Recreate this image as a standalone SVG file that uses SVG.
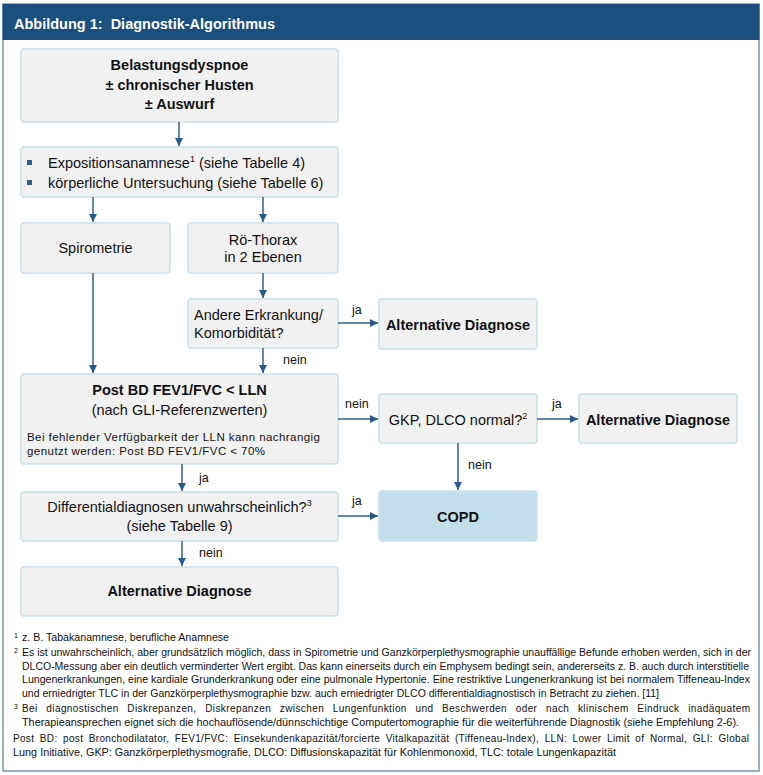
<svg xmlns="http://www.w3.org/2000/svg" width="763" height="775" viewBox="0 0 763 775">
<defs>
<style>
.box{fill:#f1f1f1;stroke:#c9e0ec;stroke-width:1.5}
.copd{fill:#c3deeb;stroke:#c9e0ec;stroke-width:1.5}
.t{font-family:"Liberation Sans",Arial,sans-serif;font-size:14.5px;fill:#111}
.b{font-weight:bold}
.c{text-anchor:middle}
.lbl{font-family:"Liberation Sans",Arial,sans-serif;font-size:12.5px;fill:#111}
.sm{font-family:"Liberation Sans",Arial,sans-serif;font-size:11.5px;fill:#111}
.fn{font-family:"Liberation Sans",Arial,sans-serif;font-size:10px;fill:#111}
.sup{font-family:"Liberation Sans",Arial,sans-serif;font-size:7px;fill:#111}
.conn line{stroke:#2f5f8a;stroke-width:1.5;marker-end:url(#ah)}
</style>
<marker id="ah" viewBox="0 0 10 10" refX="10" refY="5" markerWidth="8" markerHeight="8" markerUnits="userSpaceOnUse" orient="auto">
<path d="M0,0 L10,5 L0,10 Z" fill="#2a5a85"/>
</marker>
</defs>
<rect x="0" y="0" width="763" height="775" fill="#ffffff"/>
<rect id="frame" x="3" y="4" width="756" height="767" fill="#ffffff" stroke="#7594b3" stroke-width="1.5"/>
<g id="header">
<rect x="2.5" y="4" width="757" height="36" fill="#1b4f7e"/>
<text x="14" y="29" class="t b" xml:space="preserve" style="fill:#ffffff;font-size:14.5px">Abbildung 1:  Diagnostik-Algorithmus</text>
</g>

<g id="n1">
<rect class="box" x="21" y="49" width="317" height="73" rx="3"/>
<text class="t b c" x="179.5" y="70">Belastungsdyspnoe</text>
<text class="t b c" x="179.5" y="90">± chronischer Husten</text>
<text class="t b c" x="179.5" y="109">± Auswurf</text>
</g>
<g id="n2">
<rect class="box" x="21" y="147" width="317" height="50" rx="3"/>
<rect x="27" y="160" width="5" height="5" fill="#2f5f8a"/>
<rect x="27" y="180" width="5" height="5" fill="#2f5f8a"/>
<text class="t" x="48" y="168">Expositionsanamnese<tspan font-size="9" dy="-6">1</tspan><tspan dy="6"> (siehe Tabelle 4)</tspan></text>
<text class="t" x="48" y="188">körperliche Untersuchung (siehe Tabelle 6)</text>
</g>
<g id="n3">
<rect class="box" x="21" y="223" width="149" height="50" rx="3"/>
<text class="t c" x="95.5" y="253">Spirometrie</text>
</g>
<g id="n4">
<rect class="box" x="188" y="223" width="150" height="50" rx="3"/>
<text class="t c" x="263" y="245">Rö-Thorax</text>
<text class="t c" x="263" y="262">in 2 Ebenen</text>
</g>
<g id="n5">
<rect class="box" x="188" y="299" width="150" height="49" rx="3"/>
<text class="t" x="194" y="320">Andere Erkrankung/</text>
<text class="t" x="194" y="338">Komorbidität?</text>
</g>
<g id="n6">
<rect class="box" x="379" y="299" width="158" height="50" rx="3"/>
<text class="t b c" x="458" y="330">Alternative Diagnose</text>
</g>
<g id="n7">
<rect class="box" x="21" y="374" width="317" height="90" rx="3"/>
<text class="t b c" x="179.5" y="395">Post BD FEV1/FVC &lt; LLN</text>
<text class="t c" x="179.5" y="415">(nach GLI-Referenzwerten)</text>
<text class="sm" x="27" y="441" textLength="293" lengthAdjust="spacing">Bei fehlender Verfügbarkeit der LLN kann nachrangig</text>
<text class="sm" x="27" y="455" textLength="238" lengthAdjust="spacing">genutzt werden: Post BD FEV1/FVC &lt; 70%</text>
</g>
<g id="n8">
<rect class="box" x="379" y="394" width="158" height="49" rx="3"/>
<text class="t c" x="458" y="425">GKP, DLCO normal?<tspan font-size="9" dy="-6">2</tspan></text>
</g>
<g id="n9">
<rect class="box" x="579" y="394" width="158" height="49" rx="3"/>
<text class="t b c" x="658" y="425">Alternative Diagnose</text>
</g>
<g id="n10">
<rect class="box" x="21" y="492" width="317" height="49" rx="3"/>
<text class="t c" x="179.5" y="512">Differentialdiagnosen unwahrscheinlich?<tspan font-size="9" dy="-6">3</tspan></text>
<text class="t c" x="179.5" y="531">(siehe Tabelle 9)</text>
</g>
<g id="n11">
<rect class="copd" x="379" y="491" width="158" height="50" rx="3"/>
<text class="t b c" x="458" y="522">COPD</text>
</g>
<g id="n12">
<rect class="box" x="21" y="567" width="317" height="49" rx="3"/>
<text class="t b c" x="179.5" y="596">Alternative Diagnose</text>
</g>

<g id="connectors" class="conn">
<line x1="179" y1="122" x2="179" y2="146"/>
<line x1="93" y1="197" x2="93" y2="222"/>
<line x1="263" y1="197" x2="263" y2="222"/>
<line x1="263" y1="273" x2="263" y2="298"/>
<line x1="338" y1="323" x2="378" y2="323"/>
<line x1="263" y1="348" x2="263" y2="373"/>
<line x1="93" y1="273" x2="93" y2="373"/>
<line x1="338" y1="419" x2="378" y2="419"/>
<line x1="537" y1="419" x2="578" y2="419"/>
<line x1="458" y1="443" x2="458" y2="490"/>
<line x1="182" y1="464" x2="182" y2="491"/>
<line x1="338" y1="516" x2="378" y2="516"/>
<line x1="182" y1="541" x2="182" y2="566"/>
</g>
<g id="labels">
<text class="lbl" x="352" y="314">ja</text>
<text class="lbl" x="283" y="364">nein</text>
<text class="lbl" x="345" y="408">nein</text>
<text class="lbl" x="552" y="408">ja</text>
<text class="lbl" x="468" y="469">nein</text>
<text class="lbl" x="199" y="482">ja</text>
<text class="lbl" x="352" y="505">ja</text>
<text class="lbl" x="199" y="557">nein</text>
</g>

<g id="footnotes">
<text class="sup" x="14" y="638">1</text>
<text class="fn" x="22" y="641" textLength="207" lengthAdjust="spacingAndGlyphs">z. B. Tabakanamnese, berufliche Anamnese</text>
<text class="sup" x="14" y="653">2</text>
<text class="fn" x="22" y="656" textLength="729" lengthAdjust="spacingAndGlyphs">Es ist unwahrscheinlich, aber grundsätzlich möglich, dass in Spirometrie und Ganzkörperplethysmographie unauffällige Befunde erhoben werden, sich in der</text>
<text class="fn" x="22" y="670" textLength="727" lengthAdjust="spacingAndGlyphs">DLCO-Messung aber ein deutlich verminderter Wert ergibt. Das kann einerseits durch ein Emphysem bedingt sein, andererseits z. B. auch durch interstitielle</text>
<text class="fn" x="22" y="683" textLength="728" lengthAdjust="spacingAndGlyphs">Lungenerkrankungen, eine kardiale Grunderkrankung oder eine pulmonale Hypertonie. Eine restriktive Lungenerkrankung ist bei normalem Tiffeneau-Index</text>
<text class="fn" x="22" y="697" textLength="637" lengthAdjust="spacingAndGlyphs">und erniedrigter TLC in der Ganzkörperplethysmographie bzw. auch erniedrigter DLCO differentialdiagnostisch in Betracht zu ziehen. [11]</text>
<text class="sup" x="14" y="709">3</text>
<text class="fn" x="22" y="712" textLength="728" lengthAdjust="spacing" word-spacing="5.5">Bei diagnostischen Diskrepanzen, Diskrepanzen zwischen Lungenfunktion und Beschwerden oder nach klinischem Eindruck inadäquatem</text>
<text class="fn" x="22" y="726" textLength="717" lengthAdjust="spacingAndGlyphs">Therapieansprechen eignet sich die hochauflösende/dünnschichtige Computertomographie für die weiterführende Diagnostik (siehe Empfehlung 2-6).</text>
<text class="fn" x="13" y="742" textLength="736" lengthAdjust="spacing" word-spacing="2.5">Post BD: post Bronchodilatator, FEV1/FVC: Einsekundenkapazität/forcierte Vitalkapazität (Tiffeneau-Index), LLN: Lower Limit of Normal, GLI: Global</text>
<text class="fn" x="13" y="756" textLength="603" lengthAdjust="spacingAndGlyphs">Lung Initiative, GKP: Ganzkörperplethysmografie, DLCO: Diffusionskapazität für Kohlenmonoxid, TLC: totale Lungenkapazität</text>
</g>
</svg>
